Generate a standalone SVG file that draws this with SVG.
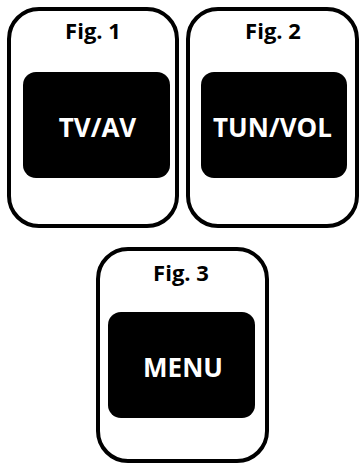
<svg xmlns="http://www.w3.org/2000/svg" width="360" height="465" viewBox="0 0 360 465">
<style>
.outer{fill:#fff;stroke:#000;stroke-width:4}
.inner{fill:#000}
.fig{font-family:"Open Sans","Liberation Sans",sans-serif;font-weight:bold;font-size:22px;text-anchor:middle;fill:#000}
.lbl{font-family:"Open Sans","Liberation Sans",sans-serif;font-weight:bold;font-size:26px;text-anchor:middle;fill:#fff}
</style>
<rect width="360" height="465" fill="#fff"/>
<g id="fig1">
<rect class="outer" x="9" y="9" width="168" height="217" rx="30"/>
<rect class="inner" x="23" y="72" width="147" height="106" rx="13"/>
<text class="fig" x="93" y="39">Fig. 1</text>
<text class="lbl" x="97.5" y="137">TV/AV</text>
</g>
<g id="fig2">
<rect class="outer" x="188" y="9" width="169" height="217" rx="30"/>
<rect class="inner" x="201" y="72" width="146" height="106" rx="13"/>
<text class="fig" x="273" y="39">Fig. 2</text>
<text class="lbl" x="272.5" y="137">TUN/VOL</text>
</g>
<g id="fig3">
<rect class="outer" x="98" y="249" width="169" height="212" rx="30"/>
<rect class="inner" x="108" y="312" width="147" height="106" rx="13"/>
<text class="fig" x="181" y="281">Fig. 3</text>
<text class="lbl" x="183" y="377">MENU</text>
</g>
<g id="connectors"/>
</svg>
